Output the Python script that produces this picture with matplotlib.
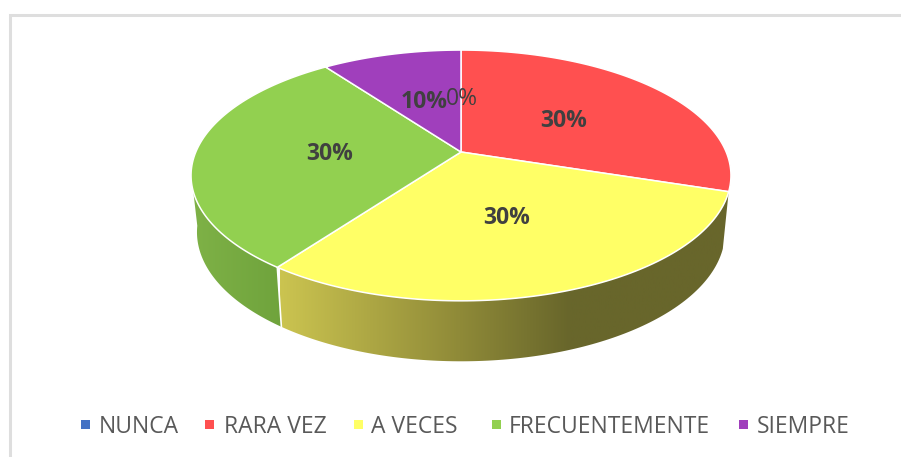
import matplotlib
matplotlib.use('Agg')
import matplotlib.pyplot as plt
from matplotlib.colors import LinearSegmentedColormap
from matplotlib.patches import Polygon
import numpy as np

plt.rcParams['font.family'] = ['Open Sans', 'DejaVu Sans']

categories = ['NUNCA', 'RARA VEZ', 'A VECES', 'FRECUENTEMENTE', 'SIEMPRE']
percent = [0, 30, 30, 30, 10]
colors = ['#4472C4', '#FF5050', '#FFFF66', '#92D050', '#A03FBC']

# legend layout, in pixels
marker_left = [81, 205, 354, 492, 739]
text_left = [99, 224, 371, 509, 757]

# pie seen in perspective
CX, CY = 461, 152
RX, RY, K = 265.2, 121, 0.187


def top_rim(angle, r=1.0):
    # angle in degrees, clockwise from 12 o'clock
    a = np.radians(angle)
    x, y = r * np.sin(a), r * np.cos(a)
    w = 1 + K * y
    return CX + RX * x / w, CY - RY * y / w


def base_rim(angle):
    sx, sy = top_rim(angle)
    return CX + (sx - CX) * 0.978, CY + 56 + (sy - CY) * 1.03


def wall(ax, a0, a1, base_end, stops, x0, x1):
    # top rim runs a0..a1, bottom rim a0..base_end
    tx, ty = top_rim(np.linspace(a0, a1, 120))
    bx, by = base_rim(np.linspace(a0, base_end, 120))
    pts = np.column_stack([np.r_[tx, bx[::-1]], np.r_[ty, by[::-1]]])
    cmap = LinearSegmentedColormap.from_list('w', stops)
    clip = Polygon(pts, closed=True, transform=ax.transData, fc='none', ec='none')
    ax.add_patch(clip)
    im = ax.imshow(np.linspace(0, 1, 256)[None, :], extent=(x0, x1, 400, 0),
                   aspect='auto', cmap=cmap, zorder=1)
    im.set_clip_path(clip)


fig = plt.figure(figsize=(9.01, 4.57), dpi=100)
ax = fig.add_axes([0, 0, 1, 1])

edges = np.r_[0, np.cumsum(percent)] * 3.6

# side walls
wall(ax, edges[3], 252, 262, ['#7FB247', '#6FA33C'], 190, 283)
wall(ax, edges[2], edges[3], edges[3],
     [(0, '#CBC450'), (0.39, '#8F8A38'), (0.63, '#68662B'), (1, '#68662B')], 280, 740)

# white seam between the two walls
sx, sy = top_rim(edges[3])
bx, by = base_rim(edges[3])
ax.plot([sx, bx], [sy, by], color='white', lw=1.2, zorder=2)

# top face
for i in range(len(percent)):
    if percent[i] == 0:
        continue
    ang = np.linspace(edges[i], edges[i + 1], 100)
    rx, ry = top_rim(ang)
    ax.add_patch(Polygon(np.column_stack([np.r_[CX, rx], np.r_[CY, ry]]), closed=True,
                         fc=colors[i], ec='white', lw=1.1, joinstyle='round', zorder=3))

# data labels sit half way out on each slice
for i in range(len(percent)):
    mid = (edges[i] + edges[i + 1]) / 2
    lx, ly = top_rim(mid, 0.5)
    ax.text(lx + 1, ly + 2.5, '%d%%' % percent[i], ha='center', va='center', fontsize=16.5,
            color='#404040', fontweight='bold' if percent[i] else 'normal', zorder=5)

# legend
for i in range(len(categories)):
    ax.fill([marker_left[i], marker_left[i] + 9, marker_left[i] + 9, marker_left[i]],
            [419.5, 419.5, 428.5, 428.5], color=colors[i], lw=0)
    ax.text(text_left[i], 424, categories[i], ha='left', va='center_baseline',
            fontsize=16.5, color='#595959')

# chart frame
ax.plot([9.5, 9.5, 901], [457, 14.5, 14.5], color='#DEDEDE', lw=2.2, solid_joinstyle='miter')

ax.set_xlim(0, 901)
ax.set_ylim(457, 0)
ax.axis('off')

fig.savefig('out.png', dpi=100)
